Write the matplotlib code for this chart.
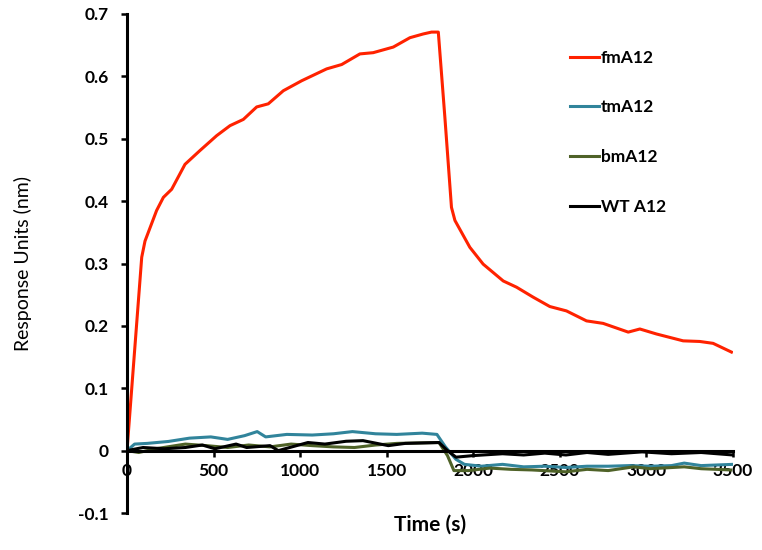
import matplotlib
matplotlib.use("Agg")
import matplotlib.pyplot as plt

# fmA12 (red)
fm_t = [0, 85, 104, 171, 210, 258, 335, 421, 518, 595, 672, 749, 816, 903, 1009,
        1153, 1240, 1345, 1422, 1538, 1634, 1711, 1759, 1798, 1836, 1874, 1894,
        1980, 2057, 2173, 2250, 2346, 2442, 2538, 2654, 2750, 2895, 2962, 3058,
        3212, 3308, 3385, 3491]
fm_v = [0, 0.31, 0.336, 0.385, 0.406, 0.419, 0.459, 0.481, 0.505, 0.521, 0.531,
        0.551, 0.556, 0.577, 0.593, 0.612, 0.619, 0.636, 0.638, 0.647, 0.662,
        0.668, 0.671, 0.671, 0.534, 0.39, 0.369, 0.326, 0.299, 0.272, 0.262,
        0.246, 0.231, 0.224, 0.208, 0.204, 0.190, 0.195, 0.187, 0.176, 0.175,
        0.172, 0.158]

# tmA12 (teal)
tm_t = [0, 44, 117, 239, 361, 484, 581, 679, 752, 801, 923, 1070, 1192, 1302,
        1436, 1558, 1705, 1790, 1839, 1900, 1949, 2047, 2169, 2291, 2413, 2535,
        2657, 2779, 2901, 3023, 3145, 3218, 3316, 3500]
tm_v = [0, 0.0105, 0.0116, 0.0147, 0.020, 0.022, 0.018, 0.024, 0.0305, 0.022,
        0.026, 0.025, 0.027, 0.0305, 0.027, 0.026, 0.028, 0.026, 0.006, -0.014,
        -0.022, -0.025, -0.022, -0.026, -0.025, -0.027, -0.025, -0.025, -0.024,
        -0.025, -0.024, -0.020, -0.024, -0.022]

# bmA12 (olive)
bm_t = [0, 68, 166, 337, 459, 581, 703, 826, 948, 1070, 1192, 1314, 1436, 1558,
        1802, 1851, 1888, 1973, 2095, 2218, 2340, 2535, 2657, 2779, 2926, 3023,
        3218, 3316, 3487]
bm_v = [0, -0.003, 0.003, 0.0105, 0.008, 0.005, 0.009, 0.006, 0.0105, 0.008,
        0.006, 0.005, 0.009, 0.0116, 0.013, -0.008, -0.032, -0.032, -0.028,
        -0.030, -0.031, -0.034, -0.030, -0.032, -0.026, -0.029, -0.026, -0.029,
        -0.031]

# WT A12 (black)
wt_t = [0, 93, 215, 337, 435, 508, 630, 691, 826, 874, 1045, 1143, 1265, 1363,
        1509, 1607, 1802, 1851, 1900, 1998, 2169, 2291, 2413, 2535, 2657, 2779,
        2975, 3145, 3316, 3500]
wt_v = [0, 0.005, 0.003, 0.005, 0.009, 0.003, 0.0105, 0.005, 0.008, 0, 0.013,
        0.0105, 0.015, 0.016, 0.008, 0.0116, 0.013, 0, -0.0105, -0.008, -0.005,
        -0.007, -0.004, -0.007, -0.003, -0.006, -0.002, -0.005, -0.003, -0.007]

x_ticks = [0, 500, 1000, 1500, 2000, 2500, 3000, 3500]
y_ticks = [-0.1, 0, 0.1, 0.2, 0.3, 0.4, 0.5, 0.6, 0.7]
y_labels = ['-0.1', '0', '0.1', '0.2', '0.3', '0.4', '0.5', '0.6', '0.7']

plt.rcParams['font.family'] = ['Lato', 'DejaVu Sans']

fig = plt.figure(figsize=(7.62, 5.5), dpi=100)
ax = fig.add_axes([127/762, 37/550, 606/762, 499/550])

ax.plot(fm_t, fm_v, color='#FF2200', lw=2.2, label='fmA12')
ax.plot(tm_t, tm_v, color='#31849B', lw=2.2, label='tmA12')
ax.plot(bm_t, bm_v, color='#4F6228', lw=2.2, label='bmA12')
ax.plot(wt_t, wt_v, color='black', lw=2.2, label='WT A12')

ax.set_xlim(0, 3500)
ax.set_ylim(-0.1, 0.7)
ax.spines['right'].set_visible(False)
ax.spines['top'].set_visible(False)
ax.spines['bottom'].set_position(('data', 0))
ax.spines['left'].set_linewidth(2.2)
ax.spines['bottom'].set_linewidth(2.2)

ax.set_xticks(x_ticks)
ax.set_yticks(y_ticks)
ax.set_yticklabels(y_labels)
ax.tick_params(axis='both', width=1.8, length=4, labelsize=12.5, direction='out')
ax.tick_params(axis='x', pad=5)
ax.tick_params(axis='y', pad=9)
for lab in ax.get_xticklabels() + ax.get_yticklabels():
    lab.set_fontweight('bold')

fig.text(430/762, (550-525)/550, 'Time (s)', fontsize=15, fontweight='bold',
         ha='center', va='center')
ax.set_ylabel('Response Units (nm)', fontsize=14, labelpad=33)

leg = ax.legend(loc='upper left', bbox_to_anchor=(0.705, 0.96), frameon=False,
                handlelength=1.7, handletextpad=0.1, labelspacing=1.95,
                prop={'weight': 'bold', 'size': 12.5})

plt.savefig('out.png', dpi=100)
